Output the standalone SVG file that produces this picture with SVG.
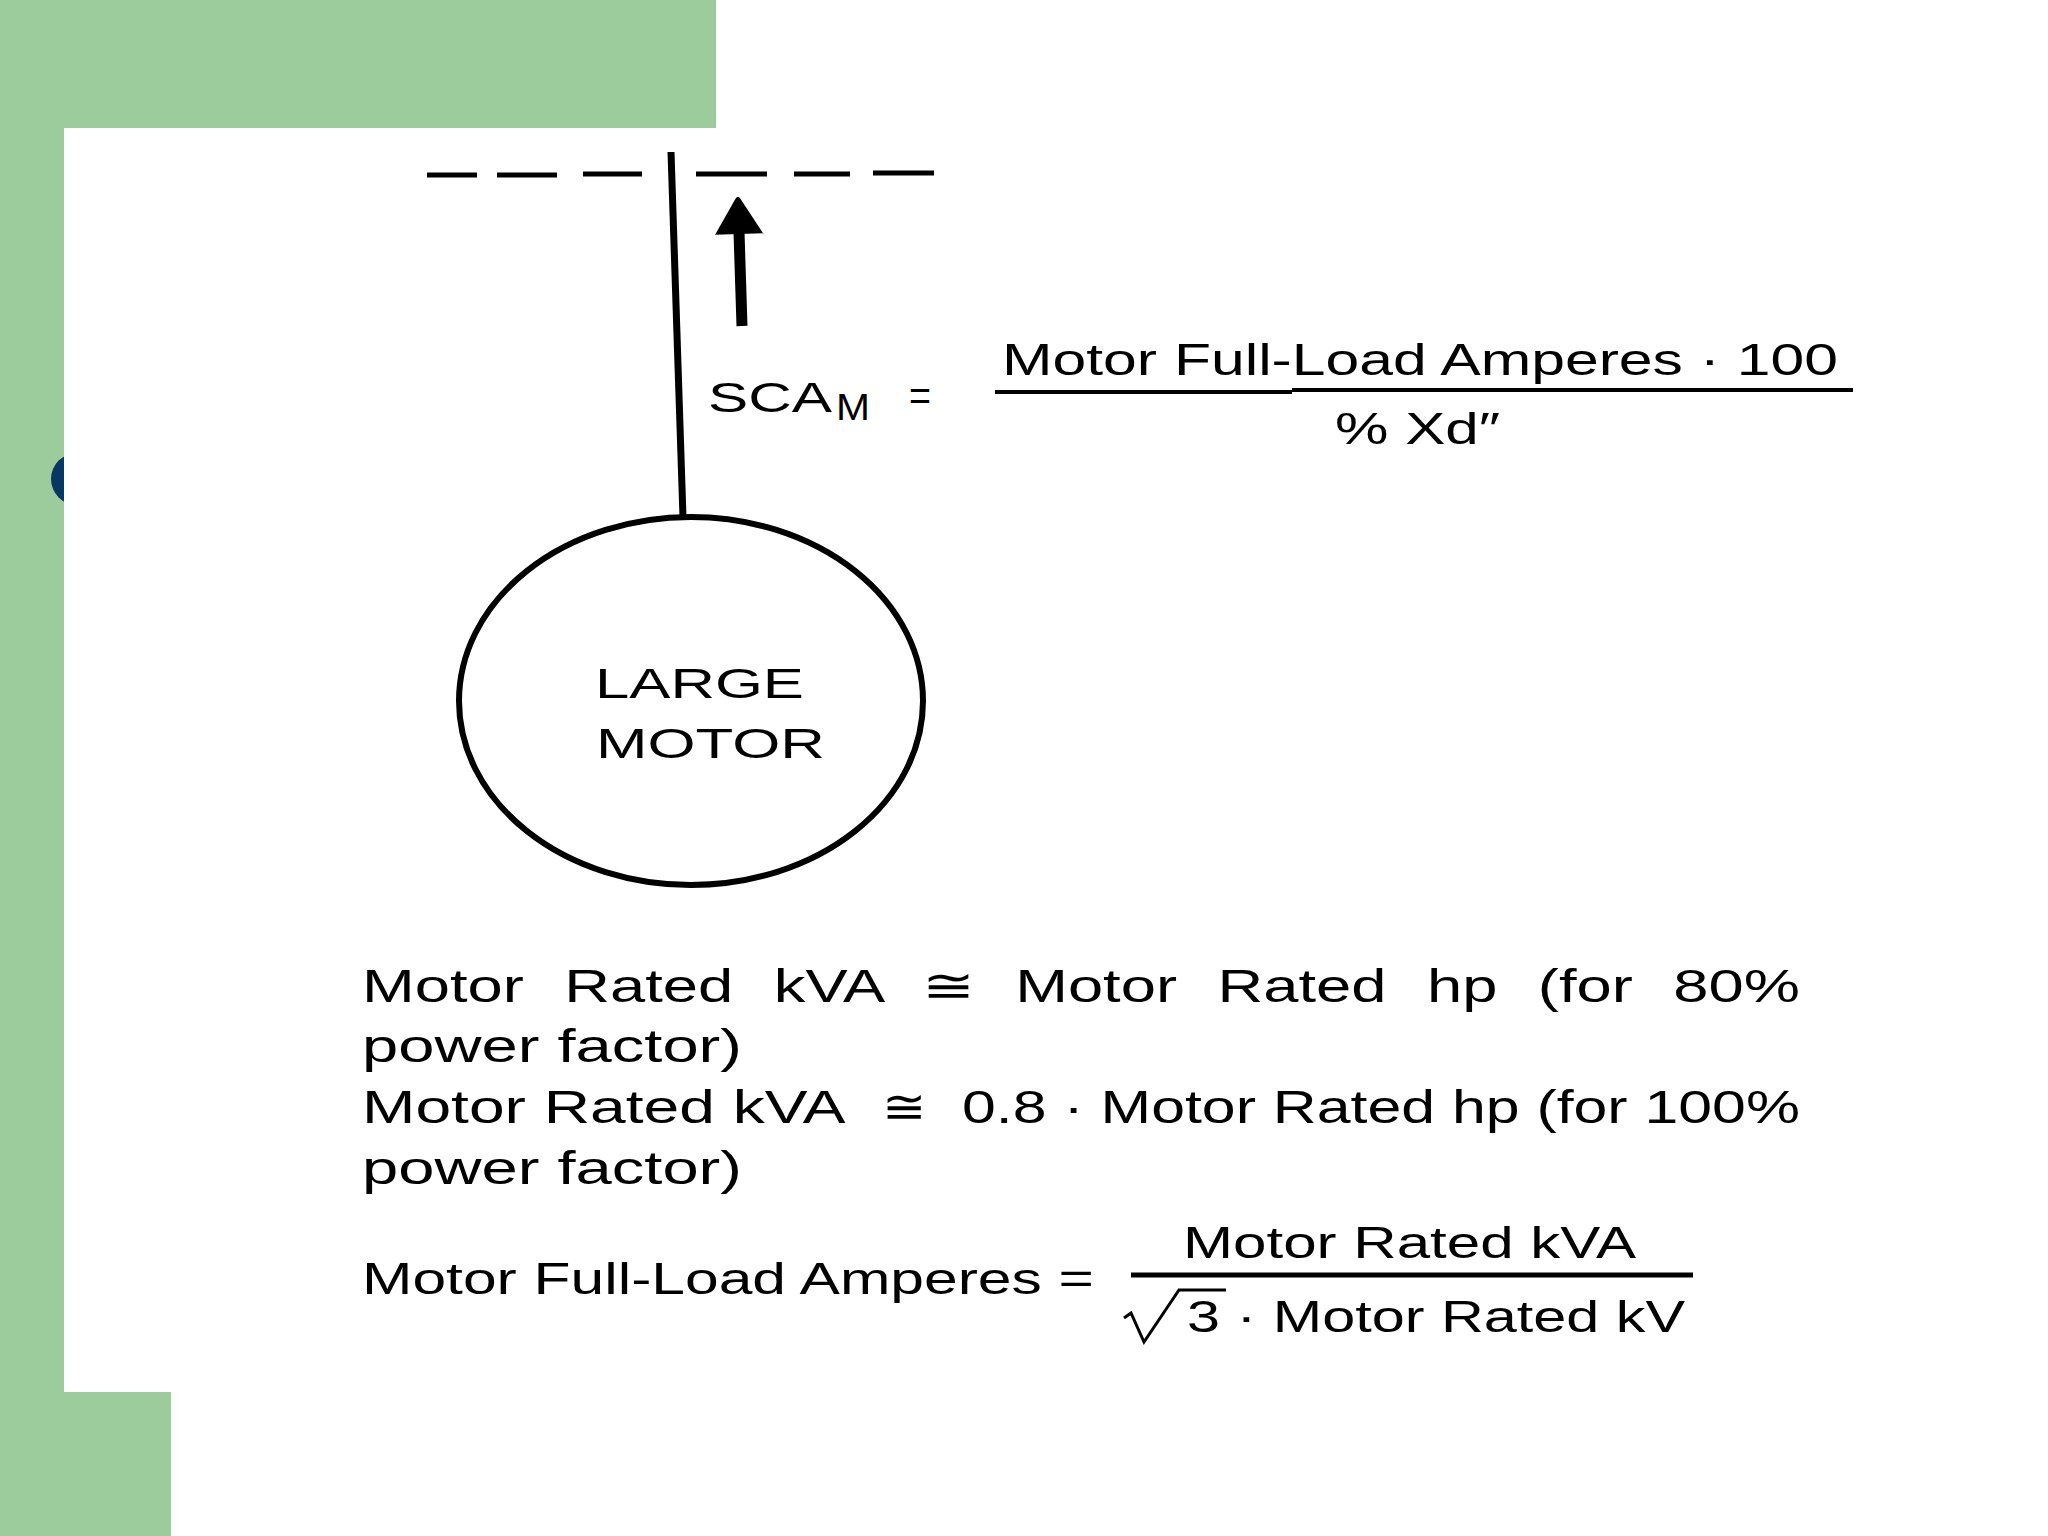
<svg xmlns="http://www.w3.org/2000/svg" width="2048" height="1536" viewBox="0 0 2048 1536">
  <style>
    .bg { fill: #9dcc9c; }
    .t { font-family: "Liberation Sans", Arial, sans-serif; fill: #000; }
    .ln { stroke: #000; fill: none; stroke-linecap: butt; }
  </style>
  <defs>
    <marker id="head" markerUnits="userSpaceOnUse" markerWidth="50" markerHeight="60" viewBox="0 -30 40 60" refX="2" refY="0" orient="auto">
      <path d="M0,-24 L36,-2 Q38,0 36,2 L0,24 Z" fill="#000"/>
    </marker>
  </defs>

  <g id="background">
    <rect width="2048" height="1536" fill="#fff"/>
    <rect class="bg" x="0" y="0" width="716" height="128"/>
    <rect class="bg" x="0" y="0" width="64" height="1536"/>
    <circle cx="77" cy="479" r="26" fill="#073763"/>
    <rect x="64" y="128" width="1984" height="1408" fill="#fff"/>
    <rect class="bg" x="0" y="1392" width="171" height="144"/>
  </g>

  <g id="bus">
    <path class="ln" stroke-width="5" d="M427,175 H477 M497,175 H557 M583,174 H642 M696,174 H767 M794,174 H850 M873,173 H934"/>
  </g>

  <g id="motor">
    <ellipse cx="691" cy="701" rx="232" ry="184" class="ln" stroke-width="6"/>
    <text class="t" x="595" y="698" font-size="43" textLength="209" lengthAdjust="spacingAndGlyphs">LARGE</text>
    <text class="t" x="596" y="758" font-size="43" textLength="229" lengthAdjust="spacingAndGlyphs">MOTOR</text>
  </g>

  <g id="connectors">
    <line class="ln" x1="671" y1="152" x2="683" y2="517" stroke-width="7"/>
    <line class="ln" x1="742" y1="326" x2="739" y2="232" stroke-width="11" marker-end="url(#head)"/>
  </g>

  <g id="sca-formula">
    <text class="t" x="708" y="412" font-size="42"><tspan textLength="124" lengthAdjust="spacingAndGlyphs">SCA</tspan><tspan x="836" y="420" font-size="36" textLength="34" lengthAdjust="spacingAndGlyphs">M</tspan></text>
    <text class="t" x="909" y="410" font-size="42" textLength="22" lengthAdjust="spacingAndGlyphs">=</text>
    <text class="t" x="1002" y="375" font-size="44" textLength="836" lengthAdjust="spacingAndGlyphs">Motor Full-Load Amperes · 100</text>
    <path class="ln" stroke-width="4" d="M995,392 H1292 M1292,390 H1853"/>
    <text class="t" x="1335" y="444" font-size="44" textLength="165" lengthAdjust="spacingAndGlyphs">% Xd″</text>
  </g>

  <g id="kva-notes">
    <text class="t" x="362" y="1002" font-size="47" word-spacing="17" textLength="1438" lengthAdjust="spacingAndGlyphs">Motor Rated kVA ≅ Motor Rated hp (for 80%</text>
    <text class="t" x="362" y="1062" font-size="47" textLength="380" lengthAdjust="spacingAndGlyphs">power factor)</text>
    <text class="t" y="1123" font-size="47"><tspan x="362" textLength="480" lengthAdjust="spacingAndGlyphs">Motor Rated kVA</tspan> <tspan x="882" textLength="44" lengthAdjust="spacingAndGlyphs">≅</tspan> <tspan x="962" textLength="838" lengthAdjust="spacingAndGlyphs">0.8 · Motor Rated hp (for 100%</tspan></text>
    <text class="t" x="362" y="1184" font-size="47" textLength="380" lengthAdjust="spacingAndGlyphs">power factor)</text>
  </g>

  <g id="fla-formula">
    <text class="t" x="362" y="1294" font-size="44" textLength="732" lengthAdjust="spacingAndGlyphs">Motor Full-Load Amperes =</text>
    <text class="t" x="1183" y="1258" font-size="44" textLength="453" lengthAdjust="spacingAndGlyphs">Motor Rated kVA</text>
    <line class="ln" x1="1131" y1="1275" x2="1693" y2="1275" stroke-width="5"/>
    <path class="ln" stroke-width="3" d="M1124,1318 L1131,1313 L1144,1342 L1179,1290 H1226"/>
    <text class="t" x="1187" y="1332" font-size="44" textLength="498" lengthAdjust="spacingAndGlyphs">3 · Motor Rated kV</text>
  </g>
</svg>
